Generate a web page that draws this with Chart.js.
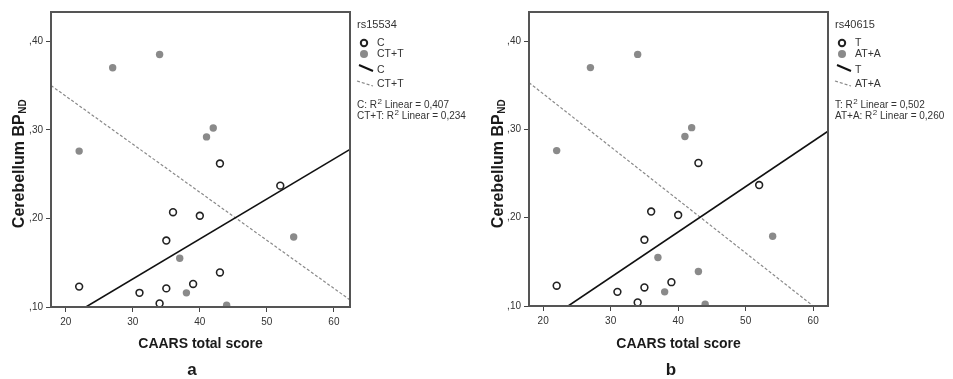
<!DOCTYPE html>
<html>
<head>
<meta charset="utf-8">
<script src="https://cdn.jsdelivr.net/npm/chart.js@4.4.0/dist/chart.umd.min.js"></script>
<style>
    html, body { margin: 0; padding: 0; background: #fff; }
    #wrap { position: relative; width: 953px; height: 379px; overflow: hidden; }
    canvas { position: absolute; top: 0; }
    #chartA { left: 0; }
    #chartB { left: 476px; }
</style>
</head>
<body>
<div id="wrap">
    <canvas id="chartA" width="476" height="379"></canvas>
    <canvas id="chartB" width="477" height="379"></canvas>
</div>
<script>
const FONT = '"Liberation Sans", Arial, sans-serif';

const xTicks = [20, 30, 40, 50, 60];
const yTicks = [0.10, 0.20, 0.30, 0.40];

// Panel a - rs15534
const scoreC  = [22, 31, 34, 35, 35, 36, 39, 40, 43, 43, 52];
const bpC     = [0.123, 0.116, 0.104, 0.121, 0.175, 0.207, 0.126, 0.203, 0.139, 0.262, 0.237];
const scoreCT = [22, 27, 34, 37, 38, 41, 42, 44, 54];
const bpCT    = [0.276, 0.370, 0.385, 0.155, 0.116, 0.292, 0.302, 0.102, 0.179];
const fitCx  = [23.0, 62.4], fitCy  = [0.100, 0.278];
const fitCTx = [17.8, 62.4], fitCTy = [0.350, 0.108];

// Panel b - rs40615
const scoreT  = [22, 31, 34, 35, 35, 36, 39, 40, 43, 52];
const bpT     = [0.123, 0.116, 0.104, 0.121, 0.175, 0.207, 0.127, 0.203, 0.262, 0.237];
const scoreAT = [22, 27, 34, 37, 38, 41, 42, 43, 44, 54];
const bpAT    = [0.276, 0.370, 0.385, 0.155, 0.116, 0.292, 0.302, 0.139, 0.102, 0.179];
const fitTx  = [23.7, 62.2], fitTy  = [0.100, 0.298];
const fitATx = [17.9, 60.0], fitATy = [0.353, 0.100];

function toPoints(xs, ys) {
    return xs.map((x, i) => ({ x: x, y: ys[i] }));
}

// draws "prefix R" + superscript 2 + rest
function drawR2(ctx, prefix, rest, x, y) {
    ctx.font = '10px ' + FONT;
    ctx.fillText(prefix + 'R', x, y);
    let cx = x + ctx.measureText(prefix + 'R').width;
    ctx.font = '8px ' + FONT;
    ctx.fillText('2', cx + 0.5, y - 4);
    cx += ctx.measureText('2').width + 0.5;
    ctx.font = '10px ' + FONT;
    ctx.fillText(rest, cx, y);
}

function panelPlugin(p) {
    return {
        id: 'panelDeco',
        afterDraw(chart) {
            const ctx = chart.ctx;
            const a = chart.chartArea;
            ctx.save();

            // plot frame
            ctx.strokeStyle = '#555';
            ctx.lineWidth = 2;
            ctx.strokeRect(a.left, a.top, a.right - a.left, a.bottom - a.top);

            // x title and panel letter
            ctx.fillStyle = '#1a1a1a';
            ctx.textAlign = 'center';
            ctx.textBaseline = 'alphabetic';
            ctx.font = 'bold 14px ' + FONT;
            ctx.fillText('CAARS total score', (a.left + a.right) / 2, 348);
            ctx.font = 'bold 17px ' + FONT;
            ctx.fillText(p.letter, p.letterX, 375);

            // y title with subscript
            ctx.save();
            ctx.translate(p.yTitleX, 164);
            ctx.rotate(-Math.PI / 2);
            ctx.textAlign = 'left';
            ctx.font = 'bold 16px ' + FONT;
            const w1 = ctx.measureText('Cerebellum BP').width;
            ctx.font = 'bold 10px ' + FONT;
            const w2 = ctx.measureText('ND').width;
            const x0 = -(w1 + w2) / 2;
            ctx.font = 'bold 16px ' + FONT;
            ctx.fillText('Cerebellum BP', x0, 0);
            ctx.font = 'bold 10px ' + FONT;
            ctx.fillText('ND', x0 + w1 + 0.5, 2);
            ctx.restore();

            // legend
            const r = a.right;
            ctx.textAlign = 'left';
            ctx.textBaseline = 'middle';
            ctx.fillStyle = '#333';
            ctx.font = '11px ' + FONT;
            ctx.fillText(p.snp, r + 7, 25);

            ctx.beginPath();
            ctx.arc(r + 14, 43, 3.2, 0, Math.PI * 2);
            ctx.fillStyle = '#fff';
            ctx.fill();
            ctx.lineWidth = 2;
            ctx.strokeStyle = '#222';
            ctx.stroke();

            ctx.beginPath();
            ctx.arc(r + 14, 54, 4, 0, Math.PI * 2);
            ctx.fillStyle = '#8a8a8a';
            ctx.fill();

            ctx.beginPath();
            ctx.moveTo(r + 9, 65);
            ctx.lineTo(r + 23, 71);
            ctx.strokeStyle = '#111';
            ctx.lineWidth = 2;
            ctx.stroke();

            ctx.beginPath();
            ctx.setLineDash([3, 2]);
            ctx.moveTo(r + 7, 81);
            ctx.lineTo(r + 23, 86);
            ctx.strokeStyle = '#888';
            ctx.lineWidth = 1.2;
            ctx.stroke();
            ctx.setLineDash([]);

            ctx.fillStyle = '#333';
            ctx.font = '10.5px ' + FONT;
            ctx.fillText(p.groups[0], r + 27, 43);
            ctx.fillText(p.groups[1], r + 27, 54);
            ctx.fillText(p.groups[0], r + 27, 70);
            ctx.fillText(p.groups[1], r + 27, 84);

            ctx.textBaseline = 'alphabetic';
            drawR2(ctx, p.groups[0] + ': ', ' Linear = ' + p.r2[0], r + 7, 108);
            drawR2(ctx, p.groups[1] + ': ', ' Linear = ' + p.r2[1], r + 7, 119);

            ctx.restore();
        }
    };
}

function makePanel(id, p) {
    const tickFont = { family: FONT, size: 10 };
    return new Chart(document.getElementById(id), {
        type: 'scatter',
        data: {
            datasets: [
                {
                    data: toPoints(p.fitAx, p.fitAy),
                    showLine: true,
                    pointRadius: 0,
                    borderColor: '#111',
                    borderWidth: 1.6
                },
                {
                    data: toPoints(p.fitBx, p.fitBy),
                    showLine: true,
                    pointRadius: 0,
                    borderColor: '#8a8a8a',
                    borderWidth: 1.2,
                    borderDash: [3, 2]
                },
                {
                    data: toPoints(p.ax, p.ay),
                    pointRadius: 3.4,
                    pointBackgroundColor: '#fff',
                    pointBorderColor: '#222',
                    pointBorderWidth: 1.6
                },
                {
                    data: toPoints(p.bx, p.by),
                    pointRadius: 3.7,
                    pointBackgroundColor: '#8a8a8a',
                    pointBorderColor: '#8a8a8a',
                    pointBorderWidth: 0
                }
            ]
        },
        options: {
            responsive: false,
            animation: false,
            layout: { padding: { left: 0, top: 12, right: p.padRight, bottom: 0 } },
            plugins: { legend: { display: false }, tooltip: { enabled: false } },
            scales: {
                x: {
                    type: 'linear',
                    min: p.xMin,
                    max: p.xMax,
                    afterBuildTicks: s => { s.ticks = xTicks.map(v => ({ value: v })); },
                    afterFit: s => { s.height = p.xAxisH; },
                    grid: { drawOnChartArea: false, drawTicks: true, tickLength: 5, color: '#444' },
                    border: { display: false },
                    ticks: { font: tickFont, color: '#333', padding: 4, maxRotation: 0, callback: v => String(v) }
                },
                y: {
                    type: 'linear',
                    min: 0.10,
                    max: 0.433,
                    afterBuildTicks: s => { s.ticks = yTicks.map(v => ({ value: v })); },
                    afterFit: s => { s.width = p.yAxisW; },
                    grid: { drawOnChartArea: false, drawTicks: true, tickLength: 5, color: '#444' },
                    border: { display: false },
                    ticks: { font: tickFont, color: '#333', padding: 3, callback: v => v.toFixed(2).replace('0.', ',') }
                }
            }
        },
        plugins: [panelPlugin(p)]
    });
}

makePanel('chartA', {
    ax: scoreC, ay: bpC, bx: scoreCT, by: bpCT,
    fitAx: fitCx, fitAy: fitCy, fitBx: fitCTx, fitBy: fitCTy,
    xMin: 17.8, xMax: 62.4,
    yAxisW: 51, xAxisH: 72, padRight: 126,
    snp: 'rs15534', groups: ['C', 'CT+T'], r2: ['0,407', '0,234'],
    letter: 'a', letterX: 192, yTitleX: 24
});

makePanel('chartB', {
    ax: scoreT, ay: bpT, bx: scoreAT, by: bpAT,
    fitAx: fitTx, fitAy: fitTy, fitBx: fitATx, fitBy: fitATy,
    xMin: 17.9, xMax: 62.2,
    yAxisW: 53, xAxisH: 73, padRight: 125,
    snp: 'rs40615', groups: ['T', 'AT+A'], r2: ['0,502', '0,260'],
    letter: 'b', letterX: 195, yTitleX: 27
});
</script>
</body>
</html>
